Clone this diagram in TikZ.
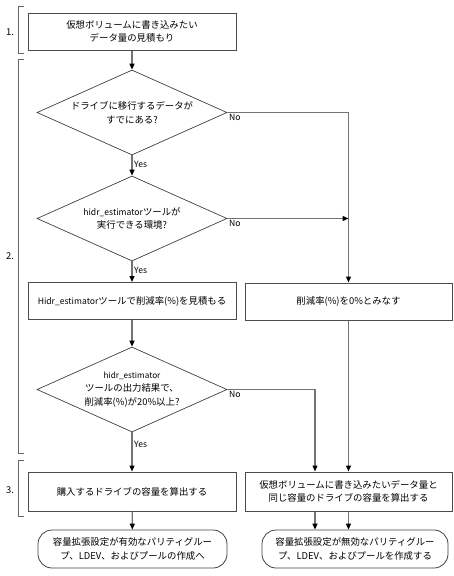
\documentclass[tikz,border=0pt]{standalone}
\usepackage{fontspec}
\setmainfont{Noto Sans CJK JP}
\usetikzlibrary{shapes.geometric,arrows.meta}
\tikzstyle{proc}=[rectangle, draw=black!70, line width=1pt, minimum height=37pt, align=center, inner sep=1pt, font=\fontsize{9.4}{13.5}\selectfont]
\tikzstyle{cond}=[diamond, draw=black!75, line width=0.7pt, aspect=2.24, minimum width=190pt, minimum height=85pt, inner sep=0pt, align=center, font=\fontsize{9.4}{13.5}\selectfont]
\tikzstyle{term}=[rectangle, rounded corners=14pt, draw=black!75, line width=0.8pt, minimum height=38pt, align=center, font=\fontsize{9.4}{13.5}\selectfont]
\tikzstyle{flow}=[draw=black!55, line width=1.3pt, -{Triangle[length=6pt,width=5pt,black]}]
\tikzstyle{ans}=[font=\fontsize{8.6}{10}\selectfont, inner sep=1.5pt]
\tikzstyle{phase}=[draw=black!60, line width=0.9pt]

\begin{document}
\begin{tikzpicture}[x=1pt, y=-1pt]
                    \useasboundingbox (0,0) rectangle (454,576);
                    % phases
                    \draw[phase] (24,6) -- (18,6) -- (18,53) -- (24,53);
                    \draw[phase] (24,59) -- (18,59) -- (18,453) -- (24,453);
                    \draw[phase] (24,460) -- (18,460) -- (18,516) -- (24,516);
                    \node[ans, font=\fontsize{9.4}{11}\selectfont] (p1) at (10,32) {1.};
                    \node[ans, font=\fontsize{9.4}{11}\selectfont] (p2) at (10,256) {2.};
                    \node[ans, font=\fontsize{9.4}{11}\selectfont] (p3) at (10,490) {3.};
                    % steps
                    \node[proc, minimum width=208pt] (est)  at (132,31.5) {仮想ボリュームに書き込みたい\\データ量の見積もり};
                    \node[cond] (q1)   at (132,112.5) {ドライブに移行するデータが\\すでにある?};
                    \node[cond] (q2)   at (132,218.5) {{\fontsize{8.6}{13.5}\selectfont hidr\_estimator}ツールが\\実行できる環境?};
                    \node[proc, minimum width=208pt] (hest) at (132,301) {{\fontsize{8.6}{13.5}\selectfont Hidr\_estimator}ツールで削減率(\%)を見積もる};
                    \node[proc, minimum width=207pt] (zero) at (348.5,301.5) {削減率(\%)を0\%とみなす};
                    \node[cond] (q3)   at (132,389.5) {{\fontsize{8.2}{12.5}\selectfont hidr\_estimator}\\ツールの出力結果で、\\削減率(\%)が20\%以上?};
                    \node[proc, minimum width=208pt, minimum height=39pt] (buy)  at (132,491.5) {購入するドライブの容量を算出する};
                    \node[proc, minimum width=207pt, minimum height=39pt] (same) at (348.5,491.5) {仮想ボリュームに書き込みたいデータ量と\\同じ容量のドライブの容量を算出する};
                    \node[term, minimum width=189pt] (endA) at (132.5,549) {容量拡張設定が有効なパリティグルー\\プ、LDEV、およびプールの作成へ};
                    \node[term, minimum width=186pt] (endB) at (355,549) {容量拡張設定が無効なパリティグルー\\プ、LDEV、およびプールを作成する};
                    % connectors
                    \coordinate (in3) at ([xshift=-33.5pt]same.north);
                    \coordinate (outB) at ([xshift=-33.5pt]same.south);
                    \coordinate (j2) at (zero.north |- q2.east);
                    \draw[flow] (est) -- (q1);
                    \draw[flow] (q1) -- node[ans, right, pos=0.45] {Yes} (q2);
                    \draw[flow] (q1.east) -| (zero.north);
                    \node[ans, below right] (no1) at (q1.east) {No};
                    \draw[flow] (q2.east) -- (j2);
                    \node[ans, below right] (no2) at (q2.east) {No};
                    \draw[flow] (q2) -- node[ans, right, pos=0.45] {Yes} (hest);
                    \draw[flow] (hest) -- (q3);
                    \draw[flow] (q3.east) -| (in3);
                    \node[ans, below right] (no3) at (q3.east) {No};
                    \draw[flow] (zero) -- (same);
                    \draw[flow] (q3) -- node[ans, right, pos=0.3] {Yes} (buy);
                    \draw[flow] (buy) -- (endA);
                    \draw[flow] (outB) -- (outB |- endB.north);
                    \draw[flow] (same.south) -- (same.south |- endB.north);
                \end{tikzpicture}
\end{document}
